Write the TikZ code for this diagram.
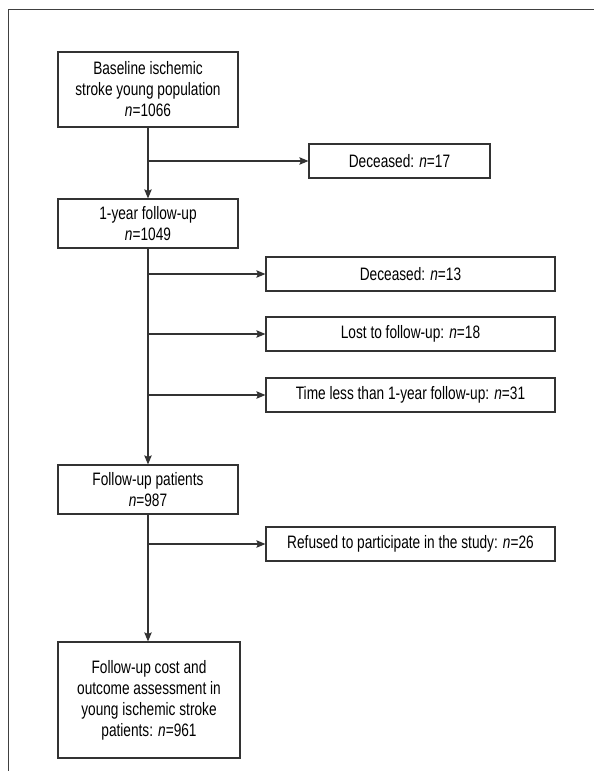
\documentclass[tikz,border=0pt]{standalone}
\usepackage{fontspec}
\setmainfont{Liberation Sans}[FakeStretch=0.76]
\usetikzlibrary{arrows.meta}
\usetikzlibrary{positioning}

\begin{document}
\begin{tikzpicture}[x=1pt, y=-1pt,
    box/.style={draw=black!80, line width=1.2pt, align=center, inner sep=0pt,
      font=\fontsize{18}{21}\selectfont},
    mainbox/.style={box, minimum width=180pt},
    sidebox/.style={box, minimum height=34pt},
    flow/.style={draw=black!80, line width=1.2pt,
      -{Stealth[length=9pt, width=7.5pt, inset=1.5pt]}}]
  \useasboundingbox (0,0) rectangle (594,771);
  \draw[black!75, line width=1pt] (8,771) -- (8,9) -- (594,9);

  % main column
  \node[mainbox, minimum height=75pt] (base) at (148,89.5)
    {Baseline ischemic\\stroke young population\\\textit{n}=1066};
  \node[mainbox, minimum height=49pt] (year) at (148,223.5)
    {1-year follow-up\\\textit{n}=1049};
  \node[mainbox, minimum height=49pt] (fup) at (148,489.5)
    {Follow-up patients\\\textit{n}=987};
  \node[mainbox, minimum width=182pt, minimum height=116pt] (final) at (149,700)
    {Follow-up cost and\\outcome assessment in\\young ischemic stroke\\patients: \textit{n}=961};

  % exclusions
  \node[sidebox, minimum width=181pt] (dead1) at (399.5,161) {Deceased: \textit{n}=17};
  \node[sidebox, minimum width=289pt] (dead2) at (410.5,274) {Deceased: \textit{n}=13};
  \node[sidebox, minimum width=289pt] (lost) at (410.5,334) {Lost to follow-up: \textit{n}=18};
  \node[sidebox, minimum width=289pt] (time) at (410.5,395) {Time less than 1-year follow-up: \textit{n}=31};
  \node[sidebox, minimum width=289pt] (refused) at (410.5,544) {Refused to participate in the study: \textit{n}=26};

  \draw[flow] (base) -- (year);
  \draw[flow] (year) -- (fup);
  \draw[flow] (fup.south) -- (fup.south |- final.north);
  \draw[flow] (base.south |- dead1.west) -- (dead1);
  \draw[flow] (year.south |- dead2.west) -- (dead2);
  \draw[flow] (year.south |- lost.west) -- (lost);
  \draw[flow] (year.south |- time.west) -- (time);
  \draw[flow] (fup.south |- refused.west) -- (refused);
\end{tikzpicture}
\end{document}
